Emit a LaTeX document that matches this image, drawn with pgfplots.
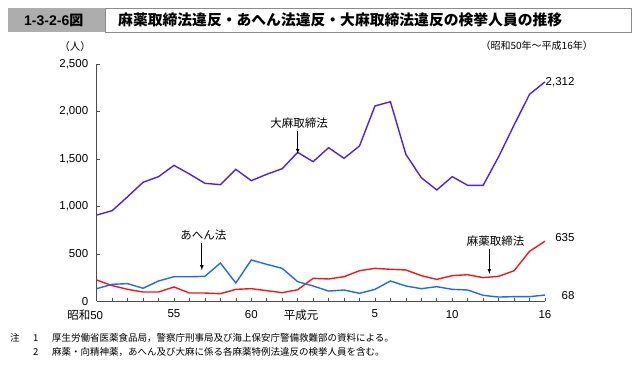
\documentclass[border=0pt]{standalone}
\usepackage{fontspec}
\setmainfont{Liberation Sans}
\newfontfamily\cjk{Noto Sans CJK JP}
\usepackage{pgfplots}
\pgfplotsset{compat=1.18}
\definecolor{taima}{RGB}{80,30,245}
\definecolor{ahen}{RGB}{30,105,250}
\definecolor{mayaku}{RGB}{240,25,25}
\pgfplotstableread{
year taima mayaku ahen
1975 910 226 135
1976 956 167 181
1977 1103 128 188
1978 1255 100 139
1979 1314 100 216
1980 1433 153 261
1981 1342 89 260
1982 1244 89 265
1983 1230 82 405
1984 1391 128 195
1985 1272 135 437
1986 1339 114 391
1987 1398 93 349
1988 1570 124 209
1989 1472 244 163
1990 1619 237 110
1991 1507 261 121
1992 1637 324 86
1993 2058 349 128
1994 2103 339 216
1995 1549 332 163
1996 1303 272 135
1997 1174 233 156
1998 1314 272 128
1999 1223 282 121
2000 1223 251 65
2001 1524 265 47
2002 1858 324 51
2003 2181 528 51
2004 2312 635 68
}\data
\begin{document}
\begin{tikzpicture}
\path[use as bounding box] (0pt,0pt) rectangle (639pt,366pt);
% title bar
\fill[black!32] (8pt,334pt) rectangle (105pt,358pt);
\draw[black!45, line width=0.6pt] (105pt,334pt) rectangle (631pt,358pt);
\node[anchor=west, inner sep=0pt] at (24pt,346pt) {\fontsize{14}{14}\selectfont\bfseries 1-3-2-6{\cjk\bfseries 図}};
\node[anchor=west, inner sep=0pt] at (118pt,346pt) {\fontsize{14.8}{15}\selectfont\cjk\bfseries 麻薬取締法違反・あへん法違反・大麻取締法違反の検挙人員の推移};
\node[inner sep=0pt] at (75pt,319pt) {\fontsize{10.5}{11}\selectfont\cjk （人）};
\node[anchor=east, inner sep=0pt] at (593pt,320pt) {\fontsize{10}{11}\selectfont\cjk （昭和50年～平成16年）};
% notes
\node[anchor=west, inner sep=0pt] at (10pt,28pt) {\fontsize{9.5}{10}\selectfont\cjk 注};
\node[anchor=west, inner sep=0pt] at (33pt,28pt) {\fontsize{9.5}{10}\selectfont\cjk 1};
\node[anchor=west, inner sep=0pt] at (52pt,28pt) {\fontsize{9.5}{10}\selectfont\cjk 厚生労働省医薬食品局，警察庁刑事局及び海上保安庁警備救難部の資料による。};
\node[anchor=west, inner sep=0pt] at (33pt,14pt) {\fontsize{9.5}{10}\selectfont\cjk 2};
\node[anchor=west, inner sep=0pt] at (52pt,14pt) {\fontsize{9.5}{10}\selectfont\cjk 麻薬・向精神薬，あへん及び大麻に係る各麻薬特例法違反の検挙人員を含む。};
\begin{axis}[
  at={(96.7pt,64.5pt)}, anchor=south west,
  scale only axis, width=448.3pt, height=237.5pt,
  xmin=1975, xmax=2004, ymin=0, ymax=2500,
  axis lines=left,
  x axis line style={-, black!70, line width=0.7pt},
  y axis line style={-, black!70, line width=0.7pt},
  tick align=inside,
  major tick length=3.5pt,
  tick style={black!70, line width=0.6pt},
  xtick={1975,...,2004},
  xticklabels={\llap{\cjk 昭和}50,,,,,55,,,,,60,,,,{\kern-24pt\cjk 平成元},,,,5,,,,,10,,,,,,16},
  ytick={0,500,...,2500},
  yticklabel style={xshift=-5pt},
  xticklabel style={yshift=-5pt},
  /pgf/number format/.cd, 1000 sep={,}, assume math mode=true,
  /pgfplots/.cd,
  ticklabel style={font=\fontsize{11.5}{12}\selectfont},
  clip=false,
]
\addplot[taima, line width=1.4pt] table[x=year, y=taima] {\data};
\addplot[mayaku, line width=1.4pt] table[x=year, y=mayaku] {\data};
\addplot[ahen, line width=1.4pt] table[x=year, y=ahen] {\data};
\node[anchor=east, font=\fontsize{11.5}{12}\selectfont] at (axis cs:2004,2312) [xshift=33pt] {2,312};
\node[anchor=east, font=\fontsize{11.5}{12}\selectfont] at (axis cs:2004,635) [xshift=33pt, yshift=4pt] {635};
\node[anchor=east, font=\fontsize{11.5}{12}\selectfont] at (axis cs:2004,68) [xshift=33pt, yshift=-1pt] {68};
\node[font=\fontsize{11.5}{12}\selectfont\cjk] at (axis cs:1988.1,1880) {大麻取締法};
\draw[-latex, line width=0.7pt] (axis cs:1988,1790) -- (axis cs:1988,1555);
\node[font=\fontsize{11.5}{12}\selectfont\cjk] at (axis cs:1981.9,700) {あへん法};
\draw[-latex, line width=0.7pt] (axis cs:1981.8,615) -- (axis cs:1981.8,330);
\node[font=\fontsize{11.5}{12}\selectfont\cjk] at (axis cs:2000.8,635) {麻薬取締法};
\draw[-latex, line width=0.7pt] (axis cs:2000.4,555) -- (axis cs:2000.4,290);
\end{axis}
\end{tikzpicture}
\end{document}
